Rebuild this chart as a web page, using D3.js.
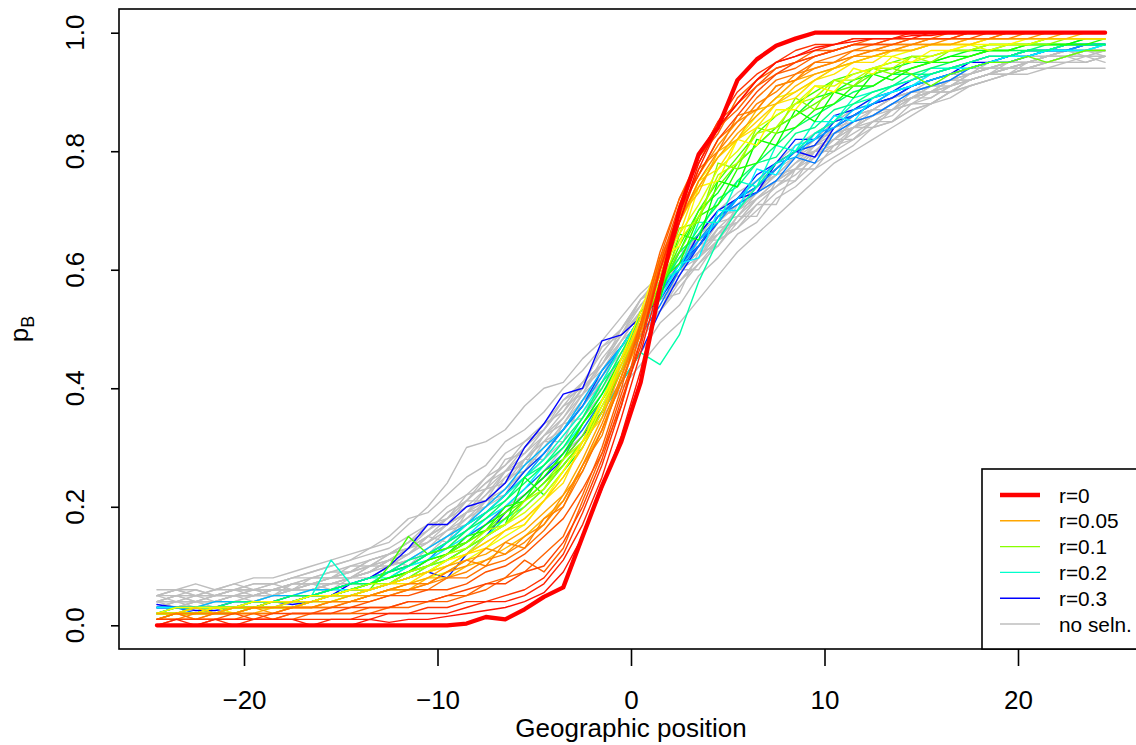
<!DOCTYPE html>
<html><head><meta charset="utf-8">
<script src="https://cdn.jsdelivr.net/npm/d3@7"></script>
<style>body{margin:0;background:#fff}svg{display:block}text{font-family:"Liberation Sans",Arial,Helvetica,sans-serif;fill:#000}</style>
</head><body><svg id="chart" width="1136" height="745"></svg>
<script>
// ---------- data ----------
const positions = [-24.5,-23.5,-22.5,-21.5,-20.5,-19.5,-18.5,-17.5,-16.5,-15.5,
  -14.5,-13.5,-12.5,-11.5,-10.5,-9.5,-8.5,-7.5,-6.5,-5.5,
  -4.5,-3.5,-2.5,-1.5,-0.5,0.5,1.5,2.5,3.5,4.5,
  5.5,6.5,7.5,8.5,9.5,10.5,11.5,12.5,13.5,14.5,
  15.5,16.5,17.5,18.5,19.5,20.5,21.5,22.5,23.5,24.5];
const xTicks = [-20,-10,0,10,20];
const xTickLabels = ["\u221220","\u221210","0","10","20"];
const yTicks = [0,0.2,0.4,0.6,0.8,1.0];
const yTickLabels = ["0.0","0.2","0.4","0.6","0.8","1.0"];
const xTitle = "Geographic position";
const legendLabels = ["r=0","r=0.05","r=0.1","r=0.2","r=0.3","no seln."];
const legendR = [0,0.05,0.1,0.2,0.3,null];

// r = 0 (bold)
const pR0 = [0,0,0,0,0,0,0,0,0,0, 0,0,0,0,0,0,.003,.014,.010,.027,
  .048,.064,.15,.235,.31,.41,.57,.70,.795,.84, .92,.955,.978,.99,1,1,1,1,1,1, 1,1,1,1,1,1,1,1,1,1];

// no selection runs
const neutral01 = [.05,.06,.05,.06,.07,.06,.07,.08,.08,.09,.10,.11,.12,.14,.16,.19,.21,.24,.27,.30,.33,.37,.39,.45,.49,.53,.59,.61,.66,.68,.72,.73,.77,.80,.81,.85,.86,.87,.89,.90,.91,.92,.93,.94,.95,.95,.96,.96,.97,.97];
const neutral02 = [.03,.03,.04,.03,.04,.04,.05,.05,.06,.06,.07,.07,.09,.10,.12,.13,.16,.18,.20,.23,.26,.30,.33,.38,.43,.48,.53,.57,.61,.64,.68,.71,.74,.76,.79,.81,.83,.85,.87,.88,.89,.91,.92,.93,.94,.95,.95,.96,.96,.95];
const neutral03 = [.04,.05,.04,.05,.05,.06,.05,.07,.07,.08,.08,.10,.11,.13,.15,.17,.21,.21,.26,.27,.32,.34,.39,.42,.48,.51,.58,.59,.65,.65,.71,.73,.75,.78,.81,.83,.84,.86,.88,.89,.90,.92,.92,.93,.94,.95,.96,.96,.97,.96];
const neutral04 = [.05,.06,.06,.05,.06,.07,.07,.08,.09,.10,.11,.13,.14,.17,.20,.24,.30,.31,.33,.37,.40,.41,.45,.48,.52,.56,.59,.63,.66,.70,.72,.75,.78,.80,.82,.85,.86,.88,.89,.91,.92,.93,.94,.95,.95,.96,.96,.97,.97,.98];
const neutral05 = [.03,.04,.04,.04,.05,.05,.05,.06,.06,.07,.08,.08,.10,.11,.13,.15,.17,.20,.22,.25,.28,.32,.36,.40,.45,.50,.55,.58,.62,.65,.67,.70,.73,.75,.78,.80,.82,.84,.85,.87,.88,.90,.91,.92,.93,.93,.94,.94,.94,.94];
const neutral06 = [.04,.04,.05,.04,.05,.05,.06,.06,.07,.07,.08,.09,.11,.12,.14,.16,.18,.21,.23,.26,.29,.33,.37,.41,.47,.52,.53,.60,.60,.65,.67,.71,.71,.77,.77,.81,.82,.85,.85,.88,.88,.90,.92,.93,.93,.94,.95,.95,.95,.96];
const neutral07 = [.05,.06,.05,.05,.06,.06,.06,.07,.08,.08,.09,.10,.12,.13,.15,.18,.20,.23,.26,.29,.32,.36,.40,.44,.49,.54,.58,.62,.66,.69,.72,.75,.77,.80,.83,.85,.87,.88,.90,.91,.92,.93,.94,.95,.96,.96,.97,.97,.98,.98];
const neutral08 = [.02,.03,.03,.03,.04,.04,.04,.05,.05,.06,.07,.08,.09,.11,.12,.15,.17,.19,.22,.25,.28,.31,.35,.39,.44,.49,.53,.58,.61,.65,.69,.72,.75,.77,.80,.82,.84,.86,.87,.89,.90,.91,.93,.94,.94,.95,.96,.96,.97,.97];
const neutral09 = [.04,.04,.04,.05,.05,.05,.06,.06,.07,.07,.08,.09,.10,.12,.14,.16,.19,.21,.24,.27,.30,.34,.38,.42,.47,.52,.55,.60,.62,.67,.68,.72,.74,.77,.79,.82,.82,.85,.86,.89,.90,.90,.92,.93,.94,.94,.95,.96,.96,.97];
const neutral10 = [.05,.05,.05,.06,.06,.07,.07,.08,.09,.10,.11,.12,.13,.15,.17,.20,.22,.25,.29,.31,.34,.38,.41,.46,.50,.55,.59,.63,.66,.70,.73,.75,.78,.81,.83,.85,.87,.89,.90,.91,.93,.94,.94,.95,.96,.97,.97,.97,.98,.98];
const neutral11 = [.03,.04,.04,.04,.05,.04,.05,.06,.06,.07,.08,.09,.11,.10,.13,.16,.17,.21,.22,.28,.28,.34,.35,.41,.45,.50,.55,.60,.63,.66,.70,.73,.76,.79,.80,.83,.85,.86,.88,.89,.91,.92,.93,.94,.95,.95,.96,.97,.97,.97];
const neutral12 = [.03,.03,.03,.04,.04,.04,.04,.05,.05,.06,.06,.07,.08,.09,.10,.12,.14,.16,.18,.21,.24,.27,.31,.35,.40,.44,.48,.51,.55,.59,.63,.66,.69,.72,.75,.78,.80,.82,.84,.86,.88,.89,.91,.92,.93,.94,.95,.95,.96,.96];
const neutral13 = [.04,.05,.05,.05,.06,.06,.06,.07,.07,.08,.09,.10,.11,.13,.15,.17,.19,.22,.25,.28,.31,.35,.39,.44,.48,.53,.57,.61,.65,.68,.71,.74,.77,.79,.81,.84,.86,.87,.89,.90,.91,.92,.94,.94,.95,.96,.96,.97,.97,.97];
const neutral14 = [.04,.03,.04,.04,.04,.05,.05,.06,.06,.07,.07,.08,.10,.11,.13,.15,.18,.20,.23,.26,.30,.33,.37,.42,.46,.51,.56,.60,.63,.67,.70,.72,.75,.78,.80,.82,.84,.86,.88,.89,.90,.91,.92,.93,.94,.95,.95,.96,.96,.96];
const neutral15 = [.04,.05,.06,.05,.05,.06,.07,.06,.08,.09,.09,.11,.12,.13,.16,.18,.22,.23,.28,.29,.33,.38,.40,.47,.49,.55,.57,.63,.64,.69,.70,.74,.76,.79,.80,.83,.84,.87,.87,.90,.90,.92,.93,.94,.94,.95,.96,.96,.97,.97];
const neutral16 = [.03,.04,.03,.04,.05,.05,.05,.06,.07,.06,.08,.10,.10,.12,.15,.14,.19,.20,.25,.26,.31,.31,.38,.40,.46,.50,.55,.56,.63,.64,.69,.69,.75,.75,.80,.80,.84,.84,.87,.88,.90,.90,.92,.93,.93,.95,.95,.96,.95,.96];
const neutral17 = [.06,.06,.07,.06,.07,.08,.08,.09,.10,.11,.12,.13,.15,.18,.19,.22,.25,.27,.31,.33,.36,.40,.43,.47,.50,.55,.58,.61,.65,.68,.71,.74,.76,.79,.82,.83,.86,.87,.89,.90,.92,.93,.93,.95,.95,.96,.97,.97,.97,.98];
const neutral18 = [.03,.03,.04,.04,.04,.05,.06,.06,.06,.07,.08,.09,.11,.12,.15,.17,.19,.23,.24,.28,.31,.33,.38,.41,.47,.50,.56,.58,.62,.66,.68,.72,.74,.77,.80,.81,.84,.85,.87,.89,.89,.91,.92,.93,.94,.94,.95,.96,.96,.96];
const neutral19 = [.05,.04,.05,.05,.06,.06,.06,.07,.07,.08,.10,.10,.12,.14,.16,.19,.21,.25,.27,.31,.33,.37,.41,.44,.49,.52,.57,.60,.64,.66,.70,.73,.75,.77,.80,.82,.85,.86,.88,.89,.91,.91,.93,.94,.95,.95,.96,.97,.96,.97];
const neutral20 = [.04,.04,.04,.04,.05,.05,.06,.06,.07,.08,.08,.09,.11,.13,.14,.17,.19,.22,.26,.28,.32,.35,.40,.43,.48,.53,.57,.60,.63,.68,.69,.73,.76,.77,.81,.82,.85,.86,.88,.89,.90,.92,.92,.93,.95,.95,.96,.96,.97,.97];
const neutral21 = [.03,.03,.03,.03,.04,.04,.05,.05,.05,.06,.07,.07,.08,.10,.11,.13,.15,.17,.20,.22,.25,.29,.32,.37,.41,.46,.51,.54,.59,.62,.66,.68,.72,.74,.77,.79,.81,.84,.85,.87,.88,.90,.91,.92,.93,.94,.94,.95,.95,.96];
const neutral22 = [.04,.05,.04,.05,.06,.05,.06,.07,.08,.08,.09,.11,.12,.14,.17,.18,.21,.24,.26,.30,.34,.36,.41,.44,.50,.54,.58,.62,.65,.69,.72,.74,.77,.80,.81,.84,.85,.87,.89,.90,.91,.92,.94,.94,.95,.96,.96,.97,.97,.97];

// selection runs (r > 0)
const selA = [.00,.00,.00,.00,.00,.00,.00,.00,.00,.00,.00,.01,.005,.01,.01,.015,.02,.025,.03,.04,.055,.09,.15,.23,.32,.43,.57,.68,.78,.84,.88,.92,.95,.96,.975,.98,.985,.99,.99,.995,.995,1,1,1,1,1,1,1,1,1];
const selB = [.00,.01,.00,.01,.01,.01,.01,.01,.00,.01,.01,.01,.02,.02,.02,.02,.03,.04,.04,.05,.07,.11,.17,.25,.35,.46,.58,.68,.77,.84,.88,.92,.95,.96,.97,.98,.99,.99,.99,.99,1,1,1,1,1,1,1,1,1,1];
const selC = [.01,.01,.01,.01,.01,.01,.02,.02,.02,.02,.03,.03,.03,.04,.04,.05,.06,.07,.07,.09,.10,.14,.20,.28,.38,.47,.60,.70,.76,.82,.86,.90,.93,.95,.96,.97,.98,.98,.99,.99,.99,.99,1,1,1,1,1,1,1,1];
const selD = [.01,.01,.01,.01,.02,.01,.01,.02,.02,.03,.03,.04,.05,.05,.06,.06,.07,.09,.10,.12,.15,.18,.23,.29,.39,.48,.61,.71,.79,.85,.88,.91,.94,.95,.96,.97,.98,.98,.98,.99,.99,.99,.99,1,1,1,1,1,1,1];
const selE = [.00,.01,.01,.01,.01,.01,.01,.01,.02,.02,.02,.02,.03,.03,.04,.04,.05,.06,.08,.11,.09,.13,.21,.29,.37,.50,.62,.72,.79,.83,.89,.92,.94,.95,.97,.97,.98,.99,.99,.99,.99,1,1,1,1,1,1,1,1,1];
const selF = [.01,.02,.01,.02,.02,.02,.02,.03,.03,.03,.04,.04,.05,.06,.06,.08,.08,.10,.11,.13,.16,.20,.26,.33,.41,.50,.60,.70,.76,.82,.85,.89,.92,.93,.95,.96,.97,.98,.98,.99,.99,.99,.99,.99,1,1,1,1,1,1];
const selG = [.01,.01,.02,.02,.02,.02,.02,.03,.03,.03,.04,.05,.05,.06,.07,.08,.09,.11,.12,.14,.17,.21,.27,.34,.42,.51,.60,.68,.75,.80,.84,.88,.90,.93,.94,.95,.96,.97,.98,.98,.99,.99,.99,.99,.99,1,1,1,1,1];
const selH = [.02,.02,.02,.02,.03,.03,.03,.03,.04,.04,.05,.05,.06,.07,.08,.10,.11,.12,.14,.16,.19,.22,.28,.35,.43,.51,.60,.69,.74,.79,.83,.86,.89,.92,.93,.94,.96,.96,.97,.98,.98,.98,.99,.99,.99,.99,.99,1,1,1];
const selI = [.01,.02,.01,.02,.02,.03,.02,.03,.03,.04,.04,.05,.06,.06,.07,.09,.10,.13,.12,.15,.17,.22,.26,.33,.41,.49,.61,.70,.76,.81,.85,.87,.91,.92,.94,.95,.96,.97,.97,.98,.98,.99,.99,.99,.99,.99,1,1,1,1];
const selJ = [.02,.02,.03,.02,.03,.03,.03,.04,.04,.05,.05,.06,.07,.08,.09,.10,.12,.14,.16,.18,.21,.25,.30,.36,.44,.52,.61,.68,.74,.79,.82,.85,.88,.90,.92,.94,.95,.96,.97,.97,.98,.98,.98,.99,.99,.99,.99,.99,.99,.99];
const selK = [.02,.03,.03,.03,.03,.04,.04,.04,.05,.05,.06,.06,.07,.08,.09,.11,.12,.14,.16,.18,.21,.26,.31,.38,.45,.53,.62,.64,.74,.75,.82,.81,.87,.87,.91,.90,.94,.93,.96,.95,.97,.97,.98,.98,.98,.99,.99,.99,.99,.99];
const selL = [.02,.02,.02,.03,.02,.03,.03,.03,.04,.04,.05,.05,.06,.07,.08,.09,.11,.13,.15,.17,.21,.25,.30,.37,.44,.52,.61,.68,.75,.79,.82,.86,.89,.90,.92,.94,.95,.96,.96,.97,.98,.98,.98,.99,.99,.99,.99,.99,.99,.99];
const selM = [.01,.02,.02,.02,.03,.03,.03,.03,.04,.05,.05,.06,.07,.08,.09,.11,.12,.15,.17,.19,.22,.26,.31,.38,.44,.51,.58,.66,.71,.77,.80,.84,.86,.88,.91,.91,.93,.94,.95,.95,.96,.97,.98,.97,.98,.98,.99,.99,.99,.99];
const selN = [.02,.02,.03,.02,.03,.03,.03,.04,.04,.05,.05,.06,.07,.08,.10,.11,.13,.15,.17,.20,.23,.27,.31,.37,.43,.51,.58,.67,.68,.78,.77,.84,.83,.89,.87,.92,.91,.94,.93,.96,.95,.97,.97,.98,.98,.98,.98,.99,.99,.99];
const selO = [.02,.02,.02,.03,.03,.03,.04,.04,.04,.05,.06,.06,.07,.09,.10,.12,.14,.16,.19,.21,.24,.28,.32,.38,.44,.50,.57,.63,.69,.74,.78,.81,.84,.86,.88,.90,.91,.93,.94,.93,.91,.93,.94,.95,.95,.96,.95,.96,.97,.97];
const selP = [.01,.02,.02,.02,.02,.03,.03,.03,.04,.04,.05,.06,.10,.15,.12,.13,.14,.16,.18,.21,.24,.27,.31,.36,.43,.50,.57,.64,.70,.75,.79,.83,.86,.88,.90,.92,.93,.94,.95,.96,.96,.97,.97,.98,.98,.98,.99,.99,.99,.99];
const selQ = [.02,.02,.02,.03,.03,.03,.04,.04,.05,.05,.06,.07,.08,.09,.11,.12,.14,.17,.19,.22,.25,.29,.34,.39,.45,.53,.55,.66,.65,.75,.74,.82,.81,.87,.85,.90,.89,.93,.92,.94,.95,.96,.96,.97,.97,.98,.98,.98,.99,.99];
const selS = [.01,.02,.02,.02,.02,.03,.03,.03,.04,.05,.05,.06,.07,.08,.09,.11,.13,.15,.17,.25,.22,.26,.30,.36,.43,.50,.57,.63,.70,.73,.78,.81,.84,.86,.89,.90,.92,.93,.94,.95,.95,.96,.97,.97,.98,.98,.98,.98,.99,.99];
const selT = [.02,.03,.03,.03,.03,.04,.04,.05,.05,.06,.07,.07,.09,.10,.12,.13,.16,.18,.21,.24,.27,.30,.35,.40,.46,.52,.57,.62,.67,.71,.75,.78,.81,.84,.86,.88,.90,.91,.93,.93,.94,.95,.96,.97,.97,.97,.98,.98,.98,.98];
const selU = [.02,.02,.03,.03,.03,.03,.04,.04,.05,.11,.07,.08,.08,.10,.12,.14,.17,.19,.22,.25,.28,.32,.36,.41,.47,.52,.58,.60,.68,.68,.75,.74,.81,.80,.85,.85,.89,.90,.91,.92,.94,.94,.95,.96,.96,.97,.97,.98,.98,.98];
const selV = [.02,.02,.02,.03,.03,.03,.03,.04,.04,.05,.05,.06,.07,.08,.10,.11,.13,.15,.18,.20,.23,.27,.31,.36,.41,.46,.44,.49,.58,.65,.70,.74,.78,.80,.83,.85,.88,.89,.91,.92,.93,.94,.95,.96,.96,.97,.97,.98,.98,.98];
const selW = [.03,.03,.03,.03,.03,.04,.04,.04,.05,.06,.06,.07,.08,.10,.11,.13,.15,.18,.20,.23,.27,.30,.34,.39,.44,.50,.55,.61,.62,.70,.70,.77,.76,.81,.82,.86,.85,.89,.90,.91,.93,.94,.94,.95,.96,.96,.97,.97,.97,.98];
const selX = [.02,.03,.03,.03,.03,.03,.04,.04,.05,.05,.06,.07,.08,.09,.11,.14,.16,.19,.22,.25,.29,.33,.37,.42,.47,.52,.56,.61,.65,.69,.72,.74,.77,.80,.82,.84,.86,.88,.90,.91,.92,.93,.94,.95,.96,.96,.97,.97,.98,.98];
const selY = [.03,.03,.02,.03,.03,.04,.04,.04,.05,.05,.06,.06,.07,.09,.10,.12,.15,.17,.20,.23,.26,.29,.33,.38,.43,.49,.54,.60,.64,.69,.71,.73,.75,.79,.78,.83,.85,.86,.88,.90,.91,.92,.94,.95,.95,.96,.97,.97,.98,.98];
const selZ1 = [.035,.03,.025,.025,.03,.04,.04,.035,.04,.05,.07,.08,.10,.13,.17,.17,.20,.21,.24,.30,.34,.39,.40,.48,.49,.52,.55,.60,.66,.70,.72,.73,.78,.80,.79,.84,.86,.88,.89,.91,.92,.93,.95,.95,.96,.97,.97,.98,.98,.98];
const selZ2 = [.03,.03,.03,.02,.03,.03,.04,.04,.05,.05,.06,.06,.07,.08,.09,.08,.12,.15,.19,.22,.25,.28,.32,.36,.41,.46,.53,.59,.64,.68,.72,.76,.78,.82,.82,.86,.87,.89,.90,.92,.93,.94,.95,.96,.96,.97,.97,.98,.98,.98];
const selAA = [.01,.01,.01,.01,.01,.02,.01,.02,.02,.02,.02,.03,.03,.04,.04,.05,.05,.07,.08,.09,.12,.15,.22,.30,.40,.51,.63,.72,.78,.84,.87,.91,.93,.94,.96,.97,.98,.98,.99,.99,.99,.99,1,1,1,1,1,1,1,1];
const selAB = [.01,.02,.02,.02,.02,.03,.03,.03,.03,.04,.04,.05,.06,.07,.07,.09,.11,.10,.14,.13,.18,.20,.27,.32,.42,.50,.62,.69,.77,.80,.86,.87,.91,.92,.95,.95,.97,.97,.98,.98,.99,.99,.99,.99,1,1,1,1,1,1];
const selAC = [.02,.02,.02,.03,.03,.03,.04,.04,.04,.05,.05,.06,.07,.07,.09,.10,.12,.13,.16,.17,.21,.24,.31,.35,.45,.51,.62,.66,.75,.77,.82,.84,.88,.89,.92,.93,.95,.95,.97,.97,.98,.98,.98,.99,.99,.99,.99,.99,.99,.99];
const selAD = [.02,.02,.03,.03,.03,.04,.04,.04,.05,.05,.06,.07,.07,.09,.10,.12,.13,.16,.17,.21,.23,.28,.31,.38,.43,.51,.57,.65,.69,.76,.78,.83,.84,.88,.89,.92,.92,.94,.94,.96,.96,.97,.97,.98,.98,.98,.99,.99,.99,.99];
const selAE = [.02,.02,.02,.03,.03,.03,.04,.04,.05,.05,.06,.07,.08,.09,.11,.12,.15,.16,.20,.21,.26,.28,.34,.38,.45,.50,.58,.61,.69,.71,.77,.78,.83,.84,.87,.88,.91,.91,.93,.94,.95,.95,.96,.97,.97,.98,.98,.98,.98,.99];
const selAF = [.02,.03,.03,.03,.04,.04,.04,.05,.05,.06,.07,.08,.09,.11,.12,.14,.16,.19,.21,.25,.27,.31,.35,.41,.45,.52,.56,.63,.66,.72,.74,.78,.79,.83,.84,.87,.88,.90,.91,.93,.93,.94,.95,.96,.96,.97,.97,.98,.98,.98];
const selAG = [.03,.03,.03,.04,.04,.04,.05,.05,.06,.06,.07,.08,.09,.11,.13,.15,.17,.20,.23,.27,.30,.33,.38,.43,.47,.52,.57,.60,.65,.68,.72,.75,.78,.79,.83,.84,.87,.88,.90,.91,.92,.93,.94,.95,.95,.96,.97,.97,.97,.98];
const selAH = [.03,.03,.03,.03,.04,.04,.04,.05,.05,.06,.07,.08,.09,.10,.12,.14,.17,.19,.22,.26,.29,.33,.37,.43,.47,.52,.56,.61,.64,.69,.72,.74,.77,.80,.81,.85,.86,.88,.89,.91,.92,.93,.94,.95,.96,.96,.97,.97,.98,.98];
const selAI = [.00,.00,.00,.01,.00,.01,.01,.01,.01,.01,.01,.02,.02,.02,.03,.03,.04,.04,.05,.06,.08,.12,.19,.27,.37,.48,.60,.70,.79,.85,.90,.93,.95,.97,.98,.98,.99,.99,.99,1,1,1,1,1,1,1,1,1,1,1];
const selAJ = [.01,.02,.02,.02,.02,.02,.03,.03,.03,.04,.04,.05,.06,.06,.08,.08,.10,.11,.13,.15,.18,.21,.27,.33,.42,.51,.59,.69,.73,.80,.82,.87,.88,.91,.93,.94,.95,.96,.97,.97,.98,.98,.99,.99,.99,.99,.99,.99,1,1];

const neutralRuns = [neutral01,neutral02,neutral03,neutral04,neutral05,neutral06,neutral07,
  neutral08,neutral09,neutral10,neutral11,neutral12,neutral13,neutral14,neutral15,neutral16,
  neutral17,neutral18,neutral19,neutral20,neutral21,neutral22];
const selRuns = [selA,selB,selC,selD,selE,selF,selG,selH,selI,selJ,selK,selL,selM,
  selN,selO,selP,selQ,selS,selT,selU,selV,selW,selX,selY,selZ1,selZ2,
  selAA,selAB,selAC,selAD,selAE,selAF,selAG,selAH,selAI,selAJ];
const selR = [0.005,0.01,0.02,0.025,0.03,0.035,0.04,0.05,0.045,0.06,0.07,0.075,0.08,
  0.1,0.11,0.12,0.14,0.15,0.17,0.2,0.19,0.22,0.25,0.26,0.3,0.29,
  0.03,0.04,0.065,0.09,0.13,0.18,0.24,0.28,0.015,0.055];

// ---------- drawing ----------
const W = 1136, H = 745;
const svg = d3.select("#chart");
svg.append("rect").attr("width", W).attr("height", H).attr("fill", "#fff");

const x = d3.scaleLinear().domain([-26.46, 26.46]).range([119, 1143]);
const y = d3.scaleLinear().domain([-0.04, 1.04]).range([649, 9]);
const hue = d3.scaleLinear().domain([0, 0.05, 0.1, 0.2, 0.3]).range([0, 39, 88, 168, 240]);
const rColor = r => d3.hsl(hue(r), 1, 0.5).formatHex();
const grayCol = "#bebebe";

const line = d3.line().x((d, i) => x(positions[i])).y(d => y(d));

const g = svg.append("g").attr("fill", "none")
  .attr("stroke-linejoin", "round").attr("stroke-linecap", "round");

g.selectAll("path.neutral").data(neutralRuns).join("path")
  .attr("class", "neutral").attr("d", line)
  .attr("stroke", grayCol).attr("stroke-width", 1.4);

const order = d3.range(selRuns.length).sort((a, b) => selR[b] - selR[a]);
g.selectAll("path.sel").data(order).join("path")
  .attr("class", "sel").attr("d", i => line(selRuns[i]))
  .attr("stroke", i => rColor(selR[i])).attr("stroke-width", 1.4);

g.append("path").attr("d", line(pR0)).attr("stroke", rColor(0)).attr("stroke-width", 4.3);

// box
svg.append("rect").attr("x", 119).attr("y", 9).attr("width", 1024).attr("height", 640)
  .attr("fill", "none").attr("stroke", "#000").attr("stroke-width", 1.6);

// x axis
const xAxis = svg.append("g").attr("transform", "translate(0,649)")
  .call(d3.axisBottom(x).tickValues(xTicks).tickSize(17).tickFormat((d, i) => xTickLabels[i]));
xAxis.select(".domain").remove();
xAxis.selectAll(".tick line").attr("stroke", "#000").attr("stroke-width", 1.6);
xAxis.selectAll(".tick text").attr("y", 60).attr("dy", 0)
  .style("font-family", '"Liberation Sans", Arial, sans-serif').style("font-size", "26px").attr("fill", "#000");

// y axis
const yAxis = svg.append("g").attr("transform", "translate(119,0)")
  .call(d3.axisLeft(y).tickValues(yTicks).tickSize(8).tickFormat(""));
yAxis.select(".domain").remove();
yAxis.selectAll(".tick line").attr("stroke", "#000").attr("stroke-width", 1.6);
svg.append("g").selectAll("text").data(yTicks).join("text")
  .attr("transform", d => `translate(84,${y(d)}) rotate(-90)`)
  .attr("text-anchor", "middle").style("font-size", "26px")
  .text((d, i) => yTickLabels[i]);

// titles
svg.append("text").attr("x", x(0)).attr("y", 737).attr("text-anchor", "middle")
  .style("font-size", "26px").text(xTitle);
const yt = svg.append("text").attr("transform", `translate(28,${(y(-0.04) + y(1.04)) / 2}) rotate(-90)`)
  .attr("text-anchor", "middle").style("font-size", "26px");
yt.append("tspan").text("p");
yt.append("tspan").attr("dy", 6).style("font-size", "18px").text("B");

// legend
const lg = svg.append("g");
lg.append("rect").attr("x", 982).attr("y", 469).attr("width", 200).attr("height", 180)
  .attr("fill", "#fff").attr("stroke", "#000").attr("stroke-width", 1.6);
const rows = lg.selectAll("g.row").data(legendLabels).join("g").attr("class", "row")
  .attr("transform", (d, i) => `translate(0,${495 + i * 25.8})`);
rows.append("line").attr("x1", 1000).attr("x2", 1040)
  .attr("stroke", (d, i) => legendR[i] === null ? grayCol : rColor(legendR[i]))
  .attr("stroke-width", (d, i) => i === 0 ? 4.3 : 1.4);
rows.append("text").attr("x", 1059).attr("dy", "0.36em").style("font-size", "20.8px").text(d => d);
</script>
</body></html>
